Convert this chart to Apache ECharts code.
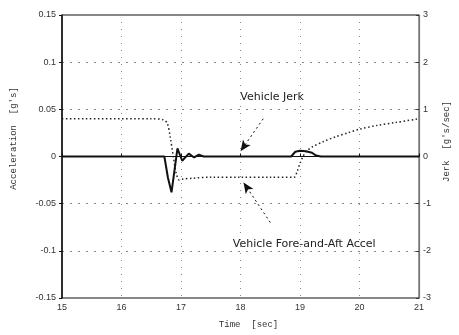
<!DOCTYPE html>
<html><head><meta charset="utf-8">
<script src="https://cdn.jsdelivr.net/npm/echarts@6/dist/echarts.min.js"></script>
<style>html,body{margin:0;padding:0;background:#fff}#c{width:459px;height:335px}</style>
</head><body><div id="c"></div>
<script>
// Vehicle fore-and-aft acceleration [g's]
const accelTime = [15, 16.5, 16.7, 16.77, 16.82, 16.87, 16.92, 16.97, 17.02, 17.2, 17.5, 18.0, 18.5, 18.9, 18.95, 19.0, 19.05, 19.1, 19.2, 19.4, 19.6, 19.8, 20.0, 20.3, 20.6, 21];
const accelValues = [0.040, 0.040, 0.039, 0.035, 0.020, 0.000, -0.018, -0.025, -0.024, -0.023, -0.022, -0.022, -0.022, -0.022, -0.016, -0.007, 0.000, 0.005, 0.010, 0.016, 0.021, 0.025, 0.029, 0.033, 0.036, 0.040];
// Vehicle jerk [g's/sec]
const jerkTime = [15, 16.72, 16.78, 16.84, 16.94, 17.02, 17.13, 17.22, 17.30, 17.38, 17.5, 18.85, 18.92, 19.0, 19.1, 19.2, 19.27, 19.35, 21];
const jerkValues = [0, 0, -0.45, -0.76, 0.17, -0.09, 0.06, -0.02, 0.04, 0, 0, 0, 0.1, 0.12, 0.11, 0.08, 0.02, 0, 0];
const xTicks = [15, 16, 17, 18, 19, 20, 21];
const accelTicks = ['-0.15', '-0.1', '-0.05', '0', '0.05', '0.1', '0.15'];
const jerkTicks = ['-3', '-2', '-1', '0', '1', '2', '3'];
// annotations (data coordinates)
const jerkLabel = {text: 'Vehicle Jerk', at: [18.53, 0.063]};
const accelLabel = {text: 'Vehicle Fore-and-Aft Accel', at: [19.07, -0.0926]};
const jerkArrow = [[18.38, 0.040], [18.0, 0.0055]];
const accelArrow = [[18.5, -0.070], [18.05, -0.0275]];

const font = 'Liberation Sans';
const mono = 'Liberation Mono';
const txt = '#333';
const chart = echarts.init(document.getElementById('c'), null, {renderer: 'canvas'});
const accelData = accelTime.map((t, i) => [t, accelValues[i]]);
const jerkData = jerkTime.map((t, i) => [t, jerkValues[i]]);
const fmtAcc = v => { const i = Math.round(v / 0.05) + 3; return accelTicks[i] ?? ''; };
const fmtJerk = v => { const i = Math.round(v) + 3; return jerkTicks[i] ?? ''; };

chart.setOption({
  animation: false,
  backgroundColor: '#fff',
  grid: {left: 62, right: 37, top: 15, bottom: 37, show: true, borderColor: '#111', borderWidth: 1},
  xAxis: {
    type: 'value', min: 15, max: 21, interval: 1,
    name: 'Time  [sec]', nameLocation: 'middle', nameGap: 22,
    nameTextStyle: {fontFamily: mono, fontSize: 9, color: txt, padding: [0, 0, 0, 16]},
    axisLine: {lineStyle: {color: '#111', width: 1.2}},
    axisTick: {inside: true, length: 3, lineStyle: {color: '#111'}},
    axisLabel: {fontFamily: font, fontSize: 9, color: txt, margin: 5, formatter: v => xTicks.includes(v) ? String(v) : ''},
    splitLine: {show: true, lineStyle: {color: '#888', type: [1, 6], width: 1}}
  },
  yAxis: [{
    type: 'value', min: -0.15, max: 0.15, interval: 0.05,
    name: 'Acceleration  [g\'s]', nameLocation: 'middle', nameGap: 44, nameRotate: 90,
    nameTextStyle: {fontFamily: mono, fontSize: 9, color: txt, padding: [0, 0, 0, 36]},
    axisLine: {show: true, lineStyle: {color: '#111', width: 1.5}},
    axisTick: {show: true, length: 3, lineStyle: {color: '#111'}},
    axisLabel: {fontFamily: font, fontSize: 9, color: txt, margin: 6, formatter: fmtAcc},
    splitLine: {show: true, lineStyle: {color: '#888', type: [2, 6], width: 1}}
  }, {
    type: 'value', min: -3, max: 3, interval: 1, position: 'right',
    name: 'Jerk  [g\'s/sec]', nameLocation: 'middle', nameGap: 20, nameRotate: 90,
    nameTextStyle: {fontFamily: mono, fontSize: 9, color: txt, padding: [0, 0, 0, 30]},
    axisLine: {show: true, lineStyle: {color: '#777', width: 1.2}},
    axisTick: {show: true, inside: true, length: 3, lineStyle: {color: '#333'}},
    axisLabel: {fontFamily: font, fontSize: 9, color: txt, margin: 4, formatter: fmtJerk},
    splitLine: {show: false}
  }],
  series: [{
    name: 'Vehicle Fore-and-Aft Accel', type: 'line', yAxisIndex: 0, data: accelData,
    showSymbol: false, smooth: 0.3,
    lineStyle: {color: '#222', width: 1.5, type: [1.5, 2.5]},
    markLine: {
      silent: true, symbol: ['none', 'arrow'], symbolSize: [7, 11],
      lineStyle: {color: '#111', width: 1, type: [2, 3]},
      label: {show: false},
      data: [
        [{coord: jerkArrow[0]}, {coord: jerkArrow[1]}],
        [{coord: accelArrow[0]}, {coord: accelArrow[1]}]
      ]
    },
    markPoint: {
      silent: true, symbol: 'circle', symbolSize: 1, itemStyle: {color: 'rgba(0,0,0,0)'},
      label: {show: true, position: 'inside', fontFamily: 'DejaVu Sans', fontSize: 11, color: '#222',
              formatter: p => p.name},
      data: [
        {name: jerkLabel.text, coord: jerkLabel.at},
        {name: accelLabel.text, coord: accelLabel.at}
      ]
    }
  }, {
    name: 'Vehicle Jerk', type: 'line', yAxisIndex: 1, data: jerkData,
    showSymbol: false, smooth: false,
    lineStyle: {color: '#111', width: 2}
  }]
});
</script></body></html>
